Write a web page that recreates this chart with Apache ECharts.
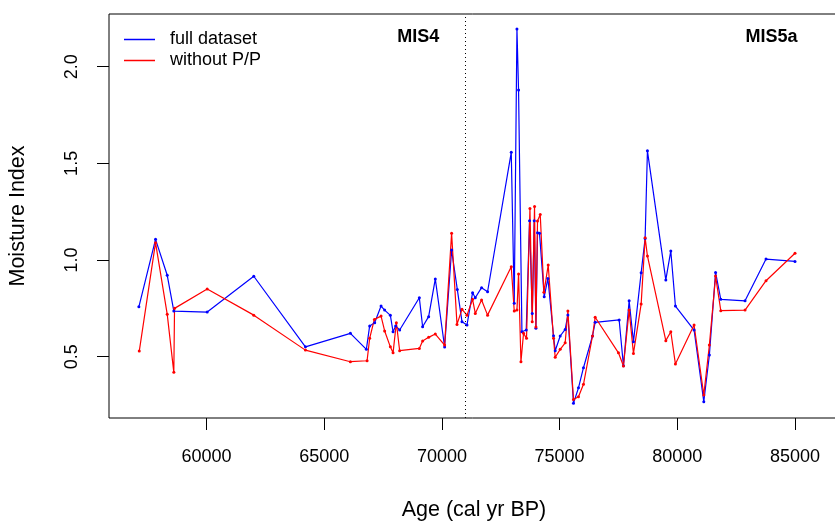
<!DOCTYPE html>
<html>
<head>
<meta charset="utf-8">
<script src="https://cdn.jsdelivr.net/npm/echarts@6/dist/echarts.min.js"></script>
<style>
  html, body { margin: 0; padding: 0; background: #fff; }
  #chart { width: 835px; height: 522px; }
</style>
</head>
<body>
<div id="chart"></div>
<script>
// full dataset
var fullAge = [57127, 57835, 58332, 58612, 60030, 62008, 64202, 66112, 66791, 66931,
  67144, 67415, 67568, 67810, 67925, 68035, 68205, 69041, 69181, 69436,
  69720, 70115, 70412, 70654, 70853, 71066, 71303, 71418, 71685, 71940,
  72946, 73073, 73188, 73256, 73400, 73582, 73723, 73837, 73922, 73994,
  74062, 74147, 74346, 74503, 74741, 74813, 75025, 75237, 75352, 75590,
  75802, 76014, 76397, 76511, 77530, 77712, 77954, 78137, 78464, 78633,
  78731, 79512, 79724, 79920, 80713, 81125, 81363, 81626, 81847, 82878,
  83769, 85000];
var fullMoisture = [0.758, 1.107, 0.921, 0.736, 0.731, 0.916, 0.551, 0.621, 0.538, 0.659,
  0.676, 0.762, 0.741, 0.714, 0.629, 0.659, 0.638, 0.805, 0.655, 0.707,
  0.902, 0.550, 1.052, 0.848, 0.681, 0.664, 0.831, 0.805, 0.857, 0.836,
  1.557, 0.776, 2.195, 1.879, 0.629, 0.638, 1.203, 0.724, 1.203, 0.647,
  1.141, 1.138, 0.810, 0.905, 0.608, 0.531, 0.607, 0.641, 0.716, 0.259,
  0.339, 0.443, 0.607, 0.678, 0.690, 0.453, 0.789, 0.577, 0.934, 1.112,
  1.565, 0.897, 1.047, 0.762, 0.638, 0.267, 0.509, 0.936, 0.797, 0.789,
  1.005, 0.993];

// without P/P
var reducedAge = [57144, 57835, 58332, 58612, 58642, 60030, 62008, 64202, 66112, 66821,
  66931, 67131, 67415, 67568, 67810, 67925, 68065, 68205, 69041, 69181,
  69436, 69720, 70115, 70412, 70641, 70853, 71066, 71303, 71418, 71685,
  71940, 72946, 73073, 73188, 73256, 73358, 73468, 73595, 73740, 73837,
  73935, 73994, 74062, 74177, 74334, 74516, 74741, 74813, 75025, 75237,
  75352, 75590, 75802, 76014, 76397, 76511, 77500, 77712, 77954, 78137,
  78464, 78633, 78731, 79512, 79724, 79920, 80713, 81125, 81363, 81626,
  81847, 82878, 83769, 85000];
var reducedMoisture = [0.529, 1.090, 0.719, 0.419, 0.750, 0.850, 0.715, 0.534, 0.474, 0.479,
  0.595, 0.693, 0.710, 0.633, 0.551, 0.520, 0.676, 0.531, 0.543, 0.581,
  0.600, 0.617, 0.560, 1.138, 0.667, 0.745, 0.715, 0.797, 0.724, 0.793,
  0.715, 0.965, 0.736, 0.741, 0.928, 0.474, 0.621, 0.595, 1.267, 0.681,
  1.277, 0.653, 1.202, 1.236, 0.833, 0.974, 0.595, 0.497, 0.538, 0.572,
  0.736, 0.279, 0.293, 0.357, 0.607, 0.704, 0.520, 0.452, 0.741, 0.517,
  0.772, 1.115, 1.021, 0.583, 0.629, 0.462, 0.664, 0.302, 0.560, 0.917,
  0.738, 0.741, 0.893, 1.035];

var xTicks = [60000, 65000, 70000, 75000, 80000, 85000];
var yTicks = [0.5, 1.0, 1.5, 2.0];
var misBoundary = 71000;

function zip(xs, ys) {
  return xs.map(function (x, i) { return [x, ys[i]]; });
}

var FONT = "Liberation Sans";
var chart = echarts.init(document.getElementById("chart"));

chart.setOption({
  animation: false,
  backgroundColor: "#fff",
  textStyle: { fontFamily: FONT, color: "#000" },
  grid: { left: 109, right: -4, top: 14, bottom: 104, outerBoundsMode: "none", containLabel: false,
    show: true, borderColor: "#000", borderWidth: 1, backgroundColor: "transparent" },
  legend: {
    orient: "vertical", left: 119, top: 24, itemGap: 0,
    icon: "rect", itemWidth: 31, itemHeight: 1.5,
    textStyle: { fontFamily: FONT, fontSize: 18, lineHeight: 21, color: "#000", padding: [0, 0, 0, 10] },
    data: ["full dataset", "without P/P"]
  },
  xAxis: {
    type: "value", min: 55858, max: 86869,
    name: "Age (cal yr BP)", nameLocation: "middle", nameGap: 81,
    nameTextStyle: { fontFamily: FONT, fontSize: 21.5, color: "#000" },
    axisLine: { show: false },
    axisTick: { show: true, length: 12, inside: false, customValues: xTicks, lineStyle: { color: "#000" } },
    axisLabel: { customValues: xTicks, margin: 30, fontSize: 18, color: "#000", fontFamily: FONT,
      formatter: function (v) { return String(v); } },
    splitLine: { show: false }
  },
  yAxis: {
    type: "value", min: 0.1829, max: 2.2726,
    name: "Moisture Index", nameLocation: "middle", nameGap: 80, nameRotate: 90,
    nameTextStyle: { fontFamily: FONT, fontSize: 21.5, color: "#000" },
    axisLine: { show: false },
    axisTick: { show: true, length: 12, customValues: yTicks, lineStyle: { color: "#000" } },
    axisLabel: { customValues: yTicks, rotate: 90, margin: 28, fontSize: 18, color: "#000", fontFamily: FONT,
      formatter: function (v) { return v.toFixed(1); } },
    splitLine: { show: false }
  },
  series: [
    {
      name: "full dataset", type: "line", data: zip(fullAge, fullMoisture),
      symbol: "circle", symbolSize: 3, showSymbol: true,
      lineStyle: { color: "#0000ff", width: 1.2 }, itemStyle: { color: "#0000ff" },
      markLine: {
        silent: true, symbol: "none", label: { show: false },
        lineStyle: { color: "#000", type: [1, 3], width: 1 },
        data: [{ xAxis: misBoundary }]
      },
      markPoint: {
        symbol: "circle", symbolSize: 0,
        label: { show: true, position: "inside", fontFamily: FONT, fontWeight: "bold", fontSize: 18, color: "#000",
          formatter: function (p) { return p.name; } },
        data: [
          { name: "MIS4", coord: [69000, 2.154] },
          { name: "MIS5a", coord: [84000, 2.154] }
        ]
      }
    },
    {
      name: "without P/P", type: "line", data: zip(reducedAge, reducedMoisture),
      symbol: "circle", symbolSize: 3, showSymbol: true,
      lineStyle: { color: "#ff0000", width: 1.2 }, itemStyle: { color: "#ff0000" }
    }
  ]
});
</script>
</body>
</html>
